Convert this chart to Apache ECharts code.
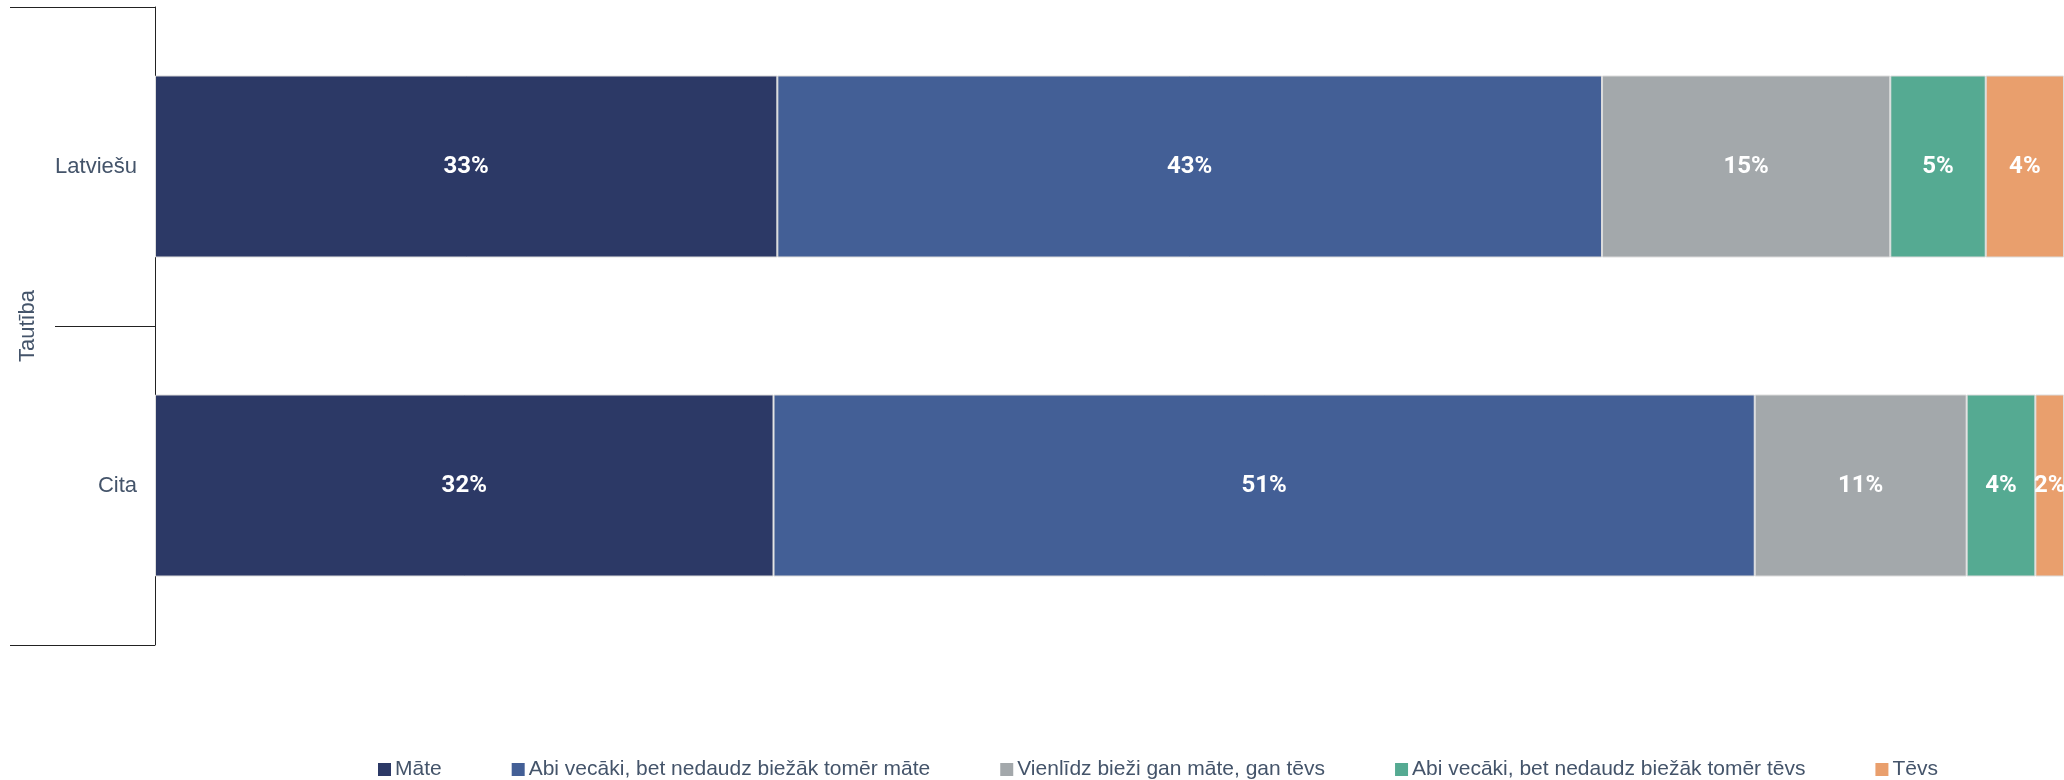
<!DOCTYPE html>
<html><head><meta charset="utf-8">
<script src="https://cdn.jsdelivr.net/npm/echarts@6/dist/echarts.min.js"></script>
<style>html,body{margin:0;padding:0;background:#fff}#c{width:2064px;height:780px}</style>
</head><body><div id="c"></div>
<script>
const categories = ['Latviešu', 'Cita'];
const seriesNames = ['Māte', 'Abi vecāki, bet nedaudz biežāk tomēr māte', 'Vienlīdz bieži gan māte, gan tēvs', 'Abi vecāki, bet nedaudz biežāk tomēr tēvs', 'Tēvs'];
const mate = [32.6, 32.4];
const abiMate = [43.2, 51.4];
const vienlidz = [15.1, 11.1];
const abiTevs = [5.0, 3.6];
const tevs = [4.1, 1.5];
const colors = ['#2c3966', '#435f96', '#a3a8ab', '#55aa92', '#e99f6d'];
const axisTitle = 'Tautība';

const values = [mate, abiMate, vienlidz, abiTevs, tevs];
const chart = echarts.init(document.getElementById('c'));
chart.setOption({
  animation: false,
  grid: {left: 155, right: 0, top: 7, bottom: 135},
  legend: {
    left: 373, top: 754, itemWidth: 13, itemHeight: 13, itemGap: 70,
    icon: 'rect',
    itemStyle: {borderWidth: 0},
    textStyle: {fontFamily: 'Liberation Sans Narrow, Liberation Sans', fontSize: 21, color: '#44546a', padding: [0,0,0,-1]},
    data: seriesNames
  },
  xAxis: {type: 'value', min: 0, max: 100, show: false},
  yAxis: [{
    type: 'category', data: categories, inverse: true,
    axisLine: {show: true, lineStyle: {color: '#222', width: 1}},
    axisTick: {show: true, length: 100, lineStyle: {color: '#222'}},
    axisLabel: {fontFamily: 'Liberation Sans', fontSize: 22, color: '#44546a', margin: 18}
  }, {
    type: 'category', data: [''], position: 'left',
    axisLine: {show: false},
    axisTick: {show: true, length: 145, lineStyle: {color: '#222'}},
    axisLabel: {show: false},
    name: axisTitle, nameLocation: 'middle', nameRotate: 90, nameGap: 116,
    nameTextStyle: {fontFamily: 'Liberation Sans', fontSize: 22, color: '#44546a'}
  }],
  series: seriesNames.map((n, i) => ({
    name: n, type: 'bar', stack: 'a', yAxisIndex: 0, barWidth: 182,
    data: values[i],
    itemStyle: {color: colors[i], borderColor: '#dcdcdc', borderWidth: 1},
    label: {
      show: true, position: 'inside', color: '#fff', fontFamily: 'Roboto', fontWeight: 'bold', fontSize: 24,
      formatter: p => Math.round(p.value) + '%'
    }
  }))
});
</script></body></html>
